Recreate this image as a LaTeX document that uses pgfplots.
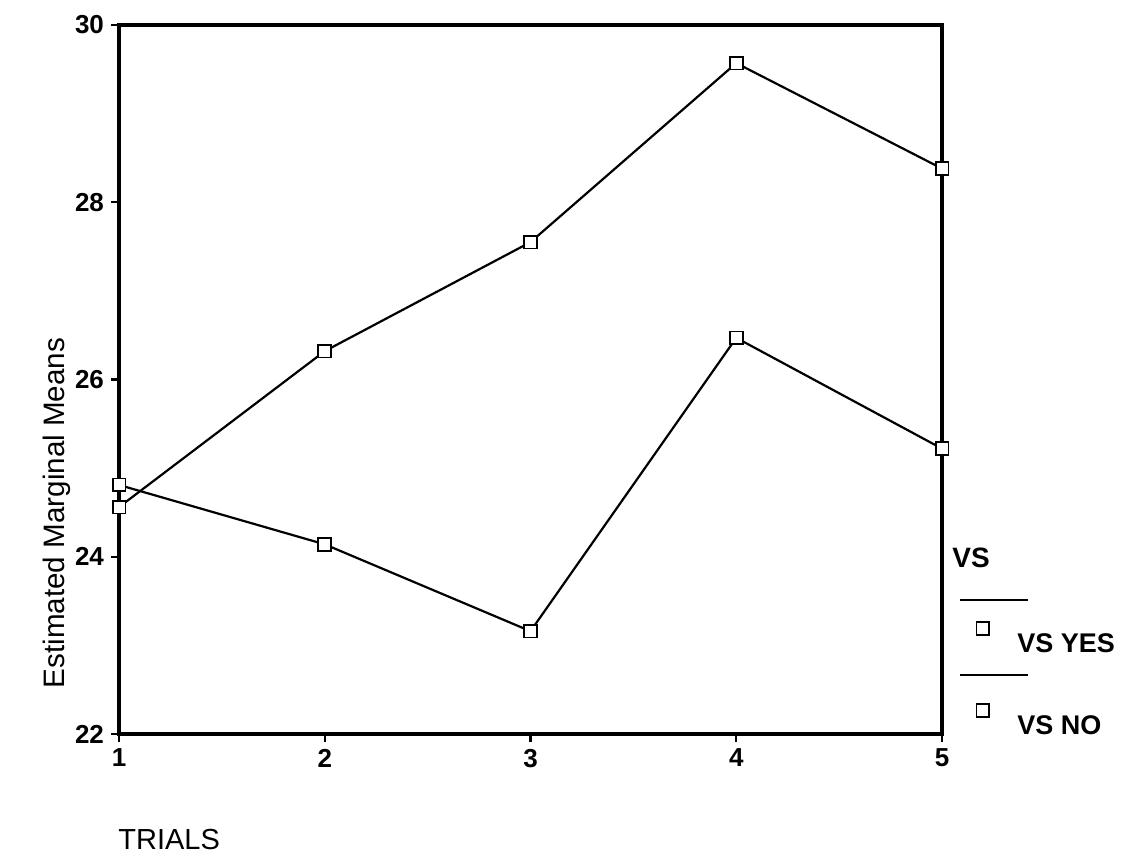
\documentclass[border=0pt]{standalone}
\usepackage{pgfplots}
\pgfplotsset{compat=1.18}
\usepackage{fontspec}
\setmainfont{Liberation Sans}
\pgfplotsset{sq/.style={black, line width=1.1pt, mark=square*, mark options={fill=white, line width=0.9pt, solid}, mark size=3.2pt}}
\begin{document}
\begin{tikzpicture}[x=1pt,y=1pt]
\path[use as bounding box] (0,0) rectangle (562,431);
\begin{axis}[
  at={(59.5pt,64pt)}, anchor=south west,
  scale only axis, width=411.5pt, height=354.5pt,
  xmin=1, xmax=5, ymin=22, ymax=30,
  xtick={1,2,3,4,5}, ytick={22,24,26,28,30},
  tick align=outside, major tick length=4pt,
  xtick pos=bottom, ytick pos=left,
  axis line style={line width=1.6pt},
  tick style={line width=1.2pt, black},
  ticklabel style={font=\bfseries\fontsize{13}{15}\selectfont},
  /pgf/number format/assume math mode=true,
  clip=false,
  legend style={draw=none, fill=none, at={(1.0415,0.1587)}, anchor=north west,
    font=\bfseries\fontsize{13.5}{15}\selectfont, row sep=22.5pt, inner sep=0pt,
    column sep=12pt},
  legend image code/.code={\draw[#1, only marks] plot coordinates {(0pt,8pt)};},
  legend cell align=left,
]
\addplot[sq] coordinates {(1,24.56) (2,26.32) (3,27.55) (4,29.57) (5,28.38)};
\addlegendentry{VS YES}
\addplot[sq] coordinates {(1,24.81) (2,24.14) (3,23.16) (4,26.47) (5,25.22)};
\addlegendentry{VS NO}
\end{axis}
\node[rotate=90, font=\fontsize{14.8}{16}\selectfont] at (28.5,174.5) {Estimated Marginal Means};
\node[anchor=west, font=\fontsize{14.5}{16}\selectfont, inner sep=0pt] at (59,11.25) {TRIALS};
\node[anchor=west, font=\bfseries\fontsize{14}{16}\selectfont, inner sep=0pt] at (476,152) {VS};
\draw[line width=0.9pt] (480,131) -- (514,131);
\draw[line width=0.9pt] (480,93.5) -- (514,93.5);
\end{tikzpicture}
\end{document}
